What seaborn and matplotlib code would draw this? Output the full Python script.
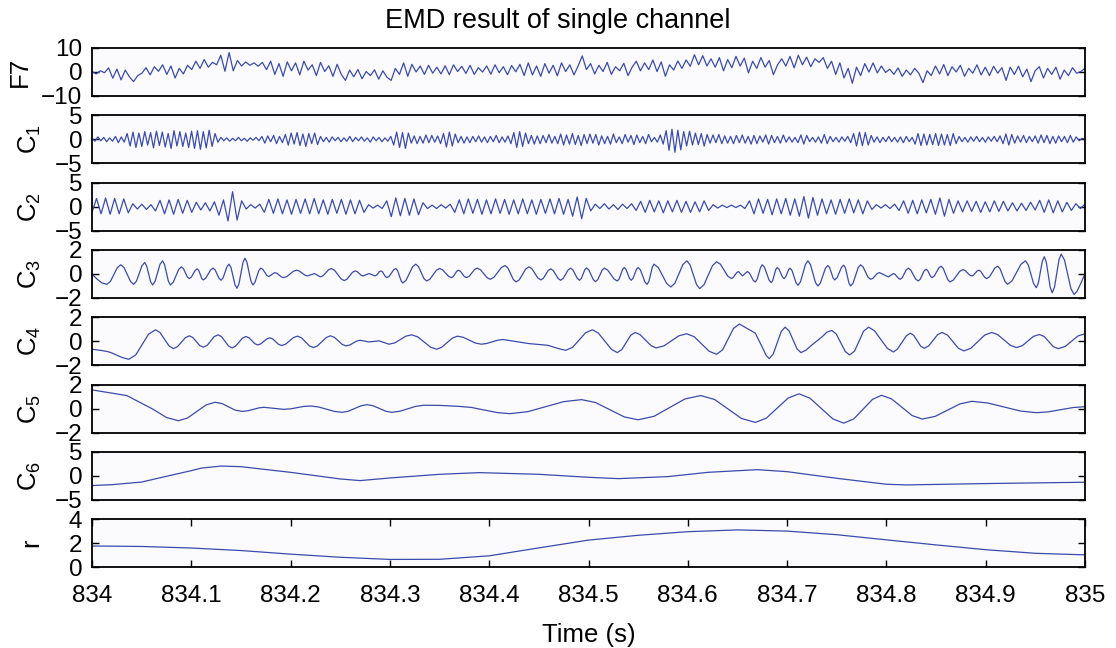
import numpy as np
import matplotlib
matplotlib.use("Agg")
import matplotlib.pyplot as plt
import seaborn as sns

# ---------------- data ----------------
T0 = 834.0
X_TICKS = [834.0, 834.1, 834.2, 834.3, 834.4, 834.5, 834.6, 834.7, 834.8, 834.9, 835.0]
X_TICK_LABELS = ["834", "834.1", "834.2", "834.3", "834.4", "834.5",
                 "834.6", "834.7", "834.8", "834.9", "835"]

# raw channel F7 (uniformly sampled over the second)
F7_VALUES = [
    0.2, -0.8, 0.5, -0.3, 1.7, -2.6, 1.2, -3.3, 0.8, -2.0, -4.0, -1.5,
    -0.5, 1.8, -1.2, 2.2, 0.3, 3.0, -1.0, 2.5, -2.5, 1.5, -0.8, 2.8,
    1.0, 4.5, 1.5, 5.2, 2.0, 4.0, 3.0, 7.0, 0.3, 8.1, 0.5, 4.8,
    2.5, 4.2, 2.8, 3.8, 2.4, 4.0, 1.0, 4.5, -1.0, 3.5, -1.8, 4.2,
    0.5, 3.8, -1.2, 4.5, 0.8, 3.0, -1.5, 4.0, 0.2, 2.6, -1.8, 3.2,
    -1.0, -3.5, 0.8, -2.0, 1.0, -2.8, 0.2, -1.5, 0.9, -3.0, 0.5, -2.2,
    -3.5, 1.5, -1.0, 3.8, -1.8, 3.2, 0.0, 2.5, -1.0, 2.8, -0.5, 2.0,
    -0.8, 2.6, -1.1, 3.0, 0.2, 2.4, -0.6, 2.8, -1.0, 1.8, 0.0, 2.5,
    -0.9, 3.0, -0.3, 2.2, -1.1, 2.7, 0.1, 3.2, -1.5, 3.8, -1.2, 2.5,
    -1.8, 3.5, -0.5, 2.8, -1.6, 3.8, 0.2, 3.0, -1.2, 2.5, 6.7, 1.0,
    3.5, -0.8, 2.8, 0.2, 4.0, -1.0, 2.2, 0.5, 3.6, -1.5, 2.0, 4.5,
    0.5, 3.8, 1.0, 5.0, 0.2, 4.2, -1.8, 3.0, 0.8, 4.6, 1.5, 5.0,
    2.4, 7.2, 3.0, 6.8, 2.5, 5.5, 2.0, 6.0, 0.5, 5.2, 1.8, 6.5,
    2.5, 5.8, -0.4, 4.5, 1.5, 6.0, 2.0, 4.8, -1.1, 3.0, 5.5, 2.5,
    6.5, 1.7, 7.0, 3.0, 6.2, 2.2, 5.5, 4.0, 6.0, 1.5, 4.5, -1.0,
    3.8, -2.5, 1.5, -4.7, 2.0, -1.5, 3.5, 0.0, 3.8, -0.4, 2.5, -0.2,
    1.2, -1.0, 1.7, -1.8, 0.8, -1.2, 1.5, -0.5, -4.4, 0.5, -1.5, 2.5,
    -0.8, 3.1, -1.5, 2.2, 0.0, 2.8, -1.8, 1.5, -0.5, 3.0, -1.2, 2.0,
    -1.5, 2.4, -0.5, 1.8, -3.5, 2.0, -1.0, 2.4, -2.0, 1.2, -4.0, 0.5,
    2.2, -2.5, 1.5, -1.0, 2.0, -3.0, 0.8, -1.5, 1.8, -0.5, 0.2, 1.5,
]

# IMF C1 (uniformly sampled extrema)
C1_VALUES = [
    0.2, -0.4, 0.5, -0.3, 0.4, -0.5, 0.3, -0.4, 0.6, -0.7, 0.5, -0.6, 1.2, -1.4, 1.5, -1.7, 1.3,
    -1.5, 1.6, -1.2, 1.4, -1.8, 1.7, -1.3, 1.5, -1.6, 1.2, -1.9, 1.8, -1.4, 1.6, -1.5, 1.3, -1.7,
    1.7, -1.9, 1.8, -2.1, 1.6, -1.8, 1.9, -1.5, 1.2, -0.6, 0.4, -0.3, 0.3, -0.4, 0.2, -0.3, 0.4,
    -0.3, 0.2, -0.4, 0.3, -0.2, 0.4, -0.3, 0.6, -0.8, 0.7, -0.5, 0.8, -0.9, 0.6, -0.7, 1.0, -1.2,
    1.3, -1.0, 1.4, -1.3, 1.1, -1.5, 1.2, -0.9, 1.3, -1.1, 0.6, -0.5, 0.4, -0.6, 0.5, -0.3, 0.4,
    -0.5, 0.3, -0.4, 0.6, -0.5, 0.4, -0.3, 0.5, -0.4, 0.3, -0.6, 0.5, -0.3, 0.4, -0.5, 0.3, -0.4,
    0.6, -1.2, 1.5, -1.7, 1.4, -1.9, 1.3, -0.8, 0.7, -0.9, 0.6, -0.8, 0.9, -0.7, 0.8, -0.6, 0.7,
    -0.9, 1.2, -1.6, 1.5, -1.4, 1.1, -0.7, 0.6, -0.8, 0.5, -0.7, 0.6, -0.5, 0.7, -0.6, 0.5, -0.7,
    0.6, -0.5, 0.8, -0.7, 0.5, -0.6, 0.7, -0.9, 1.4, -1.7, 1.6, -1.5, 1.3, -0.9, 0.8, -1.0, 0.7,
    -0.9, 0.8, -0.7, 1.0, -0.8, 0.6, -0.9, 1.1, -1.2, 0.9, -1.0, 1.2, -1.1, 0.8, -1.3, 1.0, -0.9,
    1.1, -0.8, 1.0, -1.2, 0.7, -0.9, 0.6, -1.0, 1.1, -0.7, 0.5, -0.9, 1.0, -0.6, 0.8, -1.1, 0.9,
    -0.7, 0.6, -0.9, 1.0, -0.5, 0.4, -0.6, 0.9, -1.0, 1.8, -2.3, 2.1, -2.7, 1.9, -2.2, 1.6, -1.4,
    1.7, -1.2, 1.3, -1.1, 1.2, -1.4, 1.0, -0.8, 0.9, -0.7, 1.0, -0.9, 0.7, -0.8, 0.6, -0.9, 0.8,
    -0.7, 0.9, -0.8, 0.6, -1.0, 0.8, -0.9, 0.7, -0.6, 0.9, -1.0, 0.8, -0.7, 0.6, -0.8, 0.9, -0.6,
    0.5, -0.6, 0.4, -0.7, 0.9, -1.0, 0.8, -0.5, 0.4, -0.6, 0.5, -0.8, 1.0, -0.9, 0.6, -0.5, 0.4,
    -0.6, 0.5, -0.4, 0.6, -0.7, 1.2, -1.4, 1.5, -1.3, 1.4, -1.2, 0.8, -0.6, 0.5, -0.7, 0.4, -0.5,
    0.6, -0.5, 0.4, -0.6, 0.5, -0.7, 0.6, -0.5, 0.4, -1.0, 1.2, -1.3, 1.1, -1.2, 1.0, -1.1, 1.2,
    -1.3, 1.1, -1.2, 1.0, -1.3, 1.2, -0.9, 0.6, -0.5, 0.4, -0.6, 0.5, -0.4, 0.6, -0.5, 0.4, -0.6,
    0.5, -0.4, 0.6, -0.5, 0.7, -0.9, 1.1, -1.2, 1.0, -0.8, 0.7, -0.6, 0.8, -0.7, 0.6, -0.5, 0.7,
    -0.8, 0.9, -0.7, 0.8, -0.9, 0.6, -0.8, 0.7, -0.5, 0.6, -0.7, 0.8, -0.6, 0.5, -0.3, 0.2, 0.0,
]

# IMF C2 (uniformly sampled extrema)
C2_VALUES = [
    -1.2, 1.7, -1.5, 1.8, -1.6, 1.7, -1.5, 1.6, -1.3, 0.6, -0.5,
    0.5, -0.6, 0.4, -0.9, 1.3, -1.5, 1.4, -1.6, 1.5, -1.4, 1.3,
    -1.2, 0.9, -0.7, 0.8, -0.9, 1.0, -1.8, 1.4, -3.0, 3.1, -2.8,
    1.2, -0.5, 0.4, -0.3, 0.5, -1.2, 1.5, -1.4, 1.6, -1.5, 1.4,
    -1.6, 1.5, -1.4, 1.6, -1.5, 1.7, -1.5, 1.4, -1.6, 1.5, -1.4,
    1.5, -1.6, 1.4, -1.5, 1.3, -1.2, 0.4, -0.3, 0.3, -0.4, 1.2,
    -2.1, 1.8, -1.9, 1.7, -1.8, 1.6, -1.7, 0.8, -0.4, 0.3, -0.4,
    0.4, -0.3, 0.5, -1.2, 1.4, -1.5, 1.6, -1.4, 1.5, -1.6, 1.4,
    -1.5, 1.6, -1.4, 1.5, -1.6, 1.4, -1.5, 1.6, -1.5, 1.4, -1.6,
    1.5, -1.4, 1.6, -1.5, 1.7, -1.6, 1.5, -2.0, 2.0, -2.5, 1.7,
    -0.9, 0.5, -0.4, 0.6, -0.5, 0.4, -0.6, 0.5, -0.4, 0.6, -0.8,
    1.1, -1.2, 1.3, -1.1, 1.2, -1.3, 1.2, -1.1, 1.3, -1.2, 1.1,
    -1.2, 1.0, -1.1, 1.2, -0.8, 0.4, -0.3, 0.3, -0.2, 0.3, -0.2,
    0.3, -0.4, 1.2, -1.5, 1.6, -1.4, 1.5, -1.7, 1.6, -1.5, 1.7,
    -1.8, 1.6, -2.0, 2.1, -2.4, 1.9, -1.8, 1.6, -1.5, 1.4, -1.6,
    1.5, -1.4, 1.6, -1.3, 1.4, -1.5, 1.2, -0.6, 0.4, -0.3, 0.4,
    -0.4, 0.5, -0.8, 1.2, -1.4, 1.3, -1.5, 1.4, -1.3, 1.5, -1.6,
    1.8, -2.0, 1.5, -1.4, 1.2, -1.1, 1.2, -1.0, 1.1, -1.2, 1.0,
    -1.1, 1.2, -1.0, 1.1, -0.9, 0.8, -0.9, 0.7, -0.8, 0.9, -0.7,
    1.3, -1.2, 1.4, -1.3, 1.2, -1.1, 0.9, -0.8, 0.6, -0.4, 0.5,
]

# IMF C3: (time offset in s, value) at the turning points
C3_POINTS = [
    (0.000, 0.00), (0.015, -0.87), (0.029, 0.76), (0.042, -0.87), (0.053, 0.95), (0.061, -0.92),
    (0.071, 1.09), (0.079, -0.92), (0.090, 0.59), (0.098, -0.39), (0.106, 0.42), (0.112, -0.50),
    (0.122, 0.48), (0.130, -0.53), (0.138, 0.81), (0.146, -1.20), (0.154, 1.31), (0.162, -0.92),
    (0.170, 0.48), (0.178, -0.22), (0.184, 0.11), (0.193, -0.31), (0.206, 0.31), (0.217, -0.17),
    (0.224, 0.03), (0.230, -0.25), (0.241, 0.45), (0.254, -0.56), (0.265, 0.25), (0.273, -0.17),
    (0.279, 0.03), (0.285, -0.17), (0.291, 0.25), (0.297, -0.31), (0.306, 0.45), (0.313, -0.76),
    (0.326, 0.81), (0.337, -0.59), (0.350, 0.45), (0.362, -0.31), (0.369, 0.31), (0.377, -0.31),
    (0.388, 0.48), (0.401, -0.45), (0.416, 0.70), (0.427, -0.67), (0.440, 0.59), (0.452, -0.50),
    (0.462, 0.42), (0.472, -0.53), (0.482, 0.48), (0.491, -0.53), (0.498, 0.50), (0.507, -0.64),
    (0.516, 0.48), (0.529, -0.59), (0.536, 0.53), (0.543, -0.53), (0.550, 0.53), (0.559, -0.87),
    (0.566, 0.81), (0.583, -1.09), (0.599, 1.09), (0.612, -1.23), (0.629, 1.01), (0.644, -0.39),
    (0.651, 0.20), (0.655, -0.17), (0.660, 0.20), (0.668, -0.67), (0.675, 0.76), (0.684, -0.73),
    (0.690, 0.53), (0.697, -0.39), (0.703, 0.48), (0.711, -0.95), (0.721, 1.09), (0.731, -1.01),
    (0.741, 0.70), (0.748, -0.50), (0.757, 0.73), (0.764, -1.01), (0.774, 0.76), (0.784, -0.45),
    (0.793, 0.11), (0.802, -0.25), (0.807, 0.03), (0.814, -0.45), (0.822, 0.48), (0.832, -0.59),
    (0.840, 0.39), (0.846, -0.31), (0.855, 0.64), (0.864, -0.67), (0.877, 0.36), (0.886, -0.17),
    (0.893, 0.31), (0.901, -0.39), (0.912, 0.64), (0.922, -0.87), (0.940, 1.09), (0.951, -1.15),
    (0.959, 1.43), (0.967, -1.57), (0.976, 1.65), (0.989, -1.71), (1.000, 0.03),
]
# C3: points on the flanks of each wave (read between the turning points)
C3_FLANK_POINTS = [
    (0.005, -0.43), (0.010, -0.75), (0.0185, -0.63), (0.0255, 0.52), (0.0323, 0.52), (0.0388, -0.63),
    (0.0448, -0.60), (0.0503, 0.68), (0.055, 0.68), (0.059, -0.65), (0.0635, -0.63), (0.0685, 0.80),
    (0.073, 0.80), (0.077, -0.63), (0.0818, -0.70), (0.0873, 0.37), (0.092, 0.45), (0.096, -0.25),
    (0.100, -0.27), (0.104, 0.30), (0.1075, 0.29), (0.1105, -0.37), (0.1145, -0.36), (0.1195, 0.34),
    (0.124, 0.33), (0.128, -0.38), (0.132, -0.33), (0.136, 0.61), (0.140, 0.52), (0.144, -0.91),
    (0.148, -0.83), (0.152, 0.94), (0.156, 0.98), (0.160, -0.59), (0.164, -0.72), (0.168, 0.28),
    (0.172, 0.38), (0.176, -0.12), (0.1863, 0.05), (0.1908, -0.25), (0.1963, -0.22), (0.2028, 0.22),
    (0.2088, 0.24), (0.2143, -0.10), (0.2328, -0.15), (0.2383, 0.35), (0.2443, 0.30), (0.2508, -0.41),
    (0.2568, -0.44), (0.2623, 0.13), (0.267, 0.19), (0.271, -0.11), (0.2865, -0.11), (0.2895, 0.19),
    (0.2925, 0.17), (0.2955, -0.23), (0.2993, -0.20), (0.3038, 0.34), (0.3078, 0.27), (0.3113, -0.58),
    (0.3163, -0.53), (0.3228, 0.58), (0.3288, 0.61), (0.3343, -0.39), (0.3403, -0.44), (0.3468, 0.30),
    (0.353, 0.34), (0.359, -0.20), (0.3638, -0.22), (0.3673, 0.22), (0.371, 0.22), (0.375, -0.22),
    (0.3798, -0.20), (0.3853, 0.37), (0.3913, 0.34), (0.3978, -0.31), (0.4048, -0.28), (0.4123, 0.53),
    (0.4188, 0.50), (0.4243, -0.47), (0.4303, -0.49), (0.4368, 0.41), (0.443, 0.43), (0.449, -0.34),
    (0.4545, -0.37), (0.4595, 0.29), (0.4645, 0.28), (0.4695, -0.39), (0.4745, -0.38), (0.4795, 0.33),
    (0.4843, 0.33), (0.4888, -0.38), (0.4928, -0.38), (0.4963, 0.35), (0.5003, 0.33), (0.5048, -0.47),
    (0.5093, -0.48), (0.5138, 0.32), (0.5193, 0.32), (0.5258, -0.43), (0.5308, -0.43), (0.5343, 0.37),
    (0.5378, 0.38), (0.5413, -0.38), (0.5448, -0.38), (0.5483, 0.38), (0.5523, 0.33), (0.5568, -0.67),
    (0.5608, -0.63), (0.5643, 0.57), (0.5703, 0.53), (0.5788, -0.81), (0.587, -0.77), (0.595, 0.77),
    (0.6023, 0.75), (0.6088, -0.89), (0.6163, -0.90), (0.6248, 0.68), (0.6328, 0.81), (0.6403, -0.19),
    (0.6458, -0.30), (0.6493, 0.11), (0.662, 0.07), (0.666, -0.54), (0.6698, -0.46), (0.6733, 0.55),
    (0.6773, 0.54), (0.6818, -0.51), (0.6855, -0.55), (0.6885, 0.35), (0.6918, 0.40), (0.6953, -0.26),
    (0.6985, -0.26), (0.7015, 0.35), (0.705, 0.27), (0.709, -0.74), (0.7135, -0.65), (0.7185, 0.79),
    (0.7235, 0.78), (0.7285, -0.70), (0.7335, -0.76), (0.7385, 0.45), (0.7428, 0.53), (0.7463, -0.33),
    (0.7503, -0.32), (0.7548, 0.55), (0.7588, 0.48), (0.7623, -0.76), (0.7665, -0.75), (0.7715, 0.50),
    (0.7765, 0.58), (0.7815, -0.27), (0.7863, -0.37), (0.7908, 0.03), (0.8088, -0.04), (0.8123, -0.38),
    (0.816, -0.31), (0.820, 0.34), (0.8245, 0.32), (0.8295, -0.43), (0.834, -0.45), (0.838, 0.25),
    (0.8415, 0.29), (0.8445, -0.21), (0.8483, -0.17), (0.8528, 0.50), (0.8573, 0.45), (0.8618, -0.48),
    (0.8673, -0.52), (0.8738, 0.21), (0.8793, 0.28), (0.8838, -0.09), (0.8878, -0.10), (0.8913, 0.24),
    (0.895, 0.21), (0.899, -0.29), (0.9038, -0.24), (0.9093, 0.49), (0.9145, 0.42), (0.9195, -0.65),
    (0.9265, -0.58), (0.9355, 0.80), (0.9428, 0.76), (0.9483, -0.82), (0.953, -0.77), (0.957, 1.05),
    (0.961, 0.99), (0.965, -1.13), (0.9693, -1.10), (0.9738, 1.18), (0.9793, 1.16), (0.9858, -1.22),
    (0.992, -1.45), (0.996, -0.75),
]

C4_POINTS = [
    (0.000, -0.67), (0.016, -0.87), (0.037, -1.51), (0.064, 0.95), (0.082, -0.62), (0.098, 0.45),
    (0.112, -0.50), (0.127, 0.53), (0.141, -0.56), (0.155, 0.39), (0.167, -0.31), (0.179, 0.28),
    (0.191, -0.36), (0.207, 0.42), (0.223, -0.53), (0.240, 0.45), (0.256, -0.39), (0.270, 0.08),
    (0.279, -0.06), (0.289, 0.03), (0.299, -0.25), (0.322, 0.53), (0.347, -0.67), (0.368, 0.42),
    (0.392, -0.25), (0.414, 0.14), (0.440, -0.20), (0.459, -0.34), (0.477, -0.76), (0.504, 0.95),
    (0.529, -0.95), (0.547, 0.73), (0.568, -0.56), (0.599, 0.62), (0.629, -1.09), (0.652, 1.43),
    (0.668, 0.67), (0.682, -1.45), (0.698, 1.17), (0.714, -0.95), (0.725, -0.31), (0.745, 0.90),
    (0.763, -1.15), (0.782, 1.17), (0.807, -0.90), (0.824, 0.67), (0.838, -0.59), (0.856, 0.73),
    (0.878, -0.81), (0.906, 0.73), (0.931, -0.53), (0.954, 0.56), (0.973, -0.62), (1.000, 0.62),
]
C4_FLANK_POINTS = [
    (0.010, -0.78), (0.020, -0.98), (0.030, -1.35), (0.044, -1.15), (0.057, 0.59),
    (0.0685, 0.72), (0.0775, -0.39), (0.086, -0.46), (0.094, 0.29), (0.1015, 0.31), (0.1085, -0.36),
    (0.116, -0.35), (0.123, 0.38), (0.1305, 0.37), (0.1375, -0.40), (0.1445, -0.42), (0.1515, 0.25),
    (0.158, 0.29), (0.164, -0.21), (0.170, -0.22), (0.176, 0.19), (0.182, 0.19), (0.188, -0.27),
    (0.195, -0.25), (0.203, 0.31), (0.211, 0.28), (0.219, -0.39), (0.227, -0.39), (0.236, 0.31),
    (0.244, 0.33), (0.252, -0.27), (0.2595, -0.32), (0.2665, 0.01),
    (0.305, -0.14), (0.316, 0.42), (0.328, 0.36), (0.341, -0.50), (0.352, -0.51), (0.363, 0.26),
    (0.374, 0.32), (0.386, -0.15), (0.3975, -0.19), (0.4085, 0.08), (0.470, -0.62),
    (0.484, -0.51), (0.497, 0.70), (0.510, 0.67), (0.523, -0.67), (0.5335, -0.70), (0.5425, 0.49),
    (0.552, 0.54), (0.563, -0.37), (0.576, -0.39), (0.591, 0.45), (0.6065, 0.37), (0.6215, -0.84),
    (0.635, -0.72), (0.646, 1.06), (0.660, 1.05), (0.675, -0.50), (0.679, -1.20),
    (0.686, -1.07), (0.694, 0.79), (0.702, 0.86), (0.710, -0.64), (0.719, -0.75), (0.735, 0.35),
    (0.740, 0.75), (0.7495, 0.60), (0.7585, -0.85), (0.768, -0.81), (0.777, 0.83), (0.788, 0.87),
    (0.801, -0.60), (0.811, -0.67), (0.820, 0.44), (0.8275, 0.49), (0.8345, -0.41), (0.8425, -0.40),
    (0.8515, 0.54), (0.8615, 0.51), (0.8725, -0.59), (0.885, -0.59), (0.899, 0.51), (0.912, 0.55),
    (0.925, -0.35), (0.937, -0.37), (0.948, 0.40), (0.959, 0.39), (0.968, -0.45), (0.980, -0.44),
    (0.993, 0.44),
]

C5_POINTS = [
    (0.000, 1.55), (0.035, 1.08), (0.061, -0.04), (0.075, -0.75), (0.087, -1.02), (0.096, -0.80),
    (0.115, 0.30), (0.124, 0.52), (0.131, 0.41), (0.144, -0.13), (0.151, -0.24), (0.157, -0.19),
    (0.168, 0.05), (0.173, 0.10), (0.193, -0.07), (0.200, -0.03), (0.213, 0.17), (0.220, 0.21),
    (0.228, 0.13), (0.244, -0.24), (0.252, -0.32), (0.258, -0.23), (0.271, 0.23), (0.277, 0.32),
    (0.283, 0.23), (0.296, -0.23), (0.302, -0.32), (0.310, -0.23), (0.326, 0.18), (0.334, 0.27),
    (0.350, 0.26), (0.369, 0.18), (0.382, 0.09), (0.408, -0.34), (0.421, -0.43), (0.439, -0.26),
    (0.475, 0.57), (0.493, 0.74), (0.507, 0.50), (0.536, -0.70), (0.550, -0.94), (0.566, -0.65),
    (0.597, 0.79), (0.613, 1.08), (0.627, 0.75), (0.654, -0.83), (0.668, -1.16), (0.679, -0.81),
    (0.701, 0.87), (0.712, 1.22), (0.723, 0.86), (0.746, -0.86), (0.757, -1.22), (0.767, -0.88),
    (0.786, 0.76), (0.795, 1.10), (0.805, 0.81), (0.826, -0.59), (0.836, -0.88), (0.849, -0.66),
    (0.874, 0.38), (0.886, 0.60), (0.902, 0.46), (0.935, -0.21), (0.951, -0.35), (0.963, -0.28),
    (0.988, 0.08), (1.000, 0.15),
]

C6_POINTS = [
    (0.00, -2.03), (0.02, -1.85), (0.05, -1.30), (0.075, -0.10), (0.10, 1.07), (0.11, 1.60),
    (0.13, 2.03), (0.15, 1.90), (0.20, 0.72), (0.25, -0.66), (0.27, -1.00), (0.30, -0.45),
    (0.35, 0.31), (0.39, 0.66), (0.45, 0.31), (0.50, -0.31), (0.53, -0.59), (0.58, -0.17),
    (0.62, 0.72), (0.67, 1.28), (0.70, 0.86), (0.75, -0.52), (0.80, -1.76), (0.82, -1.90),
    (0.90, -1.62), (1.00, -1.34),
]

R_POINTS = [
    (0.00, 1.76), (0.05, 1.72), (0.10, 1.59), (0.15, 1.38), (0.20, 1.08), (0.25, 0.82),
    (0.30, 0.64), (0.35, 0.65), (0.40, 0.94), (0.45, 1.60), (0.50, 2.25), (0.55, 2.65),
    (0.60, 2.95), (0.65, 3.10), (0.70, 3.00), (0.75, 2.70), (0.80, 2.27), (0.85, 1.85),
    (0.90, 1.45), (0.95, 1.15), (1.00, 1.02),
]

PANEL_LABELS = ["F7", "C$_1$", "C$_2$", "C$_3$", "C$_4$", "C$_5$", "C$_6$", "r"]
Y_LIMITS = [(-10, 10), (-5, 5), (-5, 5), (-2, 2), (-2, 2), (-2, 2), (-5, 5), (0, 4)]
Y_TICKS = [[-10, 0, 10], [-5, 0, 5], [-5, 0, 5], [-2, 0, 2], [-2, 0, 2], [-2, 0, 2],
           [-5, 0, 5], [0, 2, 4]]
TITLE = "EMD result of single channel"
X_LABEL = "Time (s)"

# ---------------- build series ----------------
def uniform(vals):
    return np.linspace(T0, T0 + 1.0, len(vals)), np.array(vals)

def pairs(*lists):
    a = np.array(sorted([p for lst in lists for p in lst]))
    return T0 + a[:, 0], a[:, 1]

series = [uniform(F7_VALUES), uniform(C1_VALUES), uniform(C2_VALUES),
          pairs(C3_POINTS, C3_FLANK_POINTS), pairs(C4_POINTS, C4_FLANK_POINTS),
          pairs(C5_POINTS), pairs(C6_POINTS), pairs(R_POINTS)]

# ---------------- style ----------------
sns.set_theme(style="ticks")
plt.rcParams['font.family'] = ['Liberation Sans', 'DejaVu Sans']
plt.rcParams['mathtext.fontset'] = 'custom'
plt.rcParams['mathtext.rm'] = 'Liberation Sans'
plt.rcParams['mathtext.it'] = 'Liberation Sans'
plt.rcParams['mathtext.default'] = 'regular'

LINE_COLOR = '#3a4bad'
FACE = '#fbfbfd'
W, H = 1116, 648
fig = plt.figure(figsize=(W / 100, H / 100), dpi=100)
fig.patch.set_facecolor('white')

left_px, right_px = 92, 1085
height_px = 48
step_px = 67.3
top0 = 48

axes = []
for i, ((t, v), lab, ylim, yt) in enumerate(zip(series, PANEL_LABELS, Y_LIMITS, Y_TICKS)):
    top = top0 + step_px * i
    rect = [left_px / W, 1 - (top + height_px) / H, (right_px - left_px) / W, height_px / H]
    ax = fig.add_axes(rect)
    ax.set_facecolor(FACE)
    sns.lineplot(x=t, y=v, ax=ax, color=LINE_COLOR, linewidth=0.9,
                 estimator=None, sort=False)
    ax.set_xlim(834, 835)
    ax.set_ylim(*ylim)
    ax.set_yticks(yt)
    ax.set_yticklabels([str(k).replace('-', '\u2212') for k in yt])
    for s in ax.spines.values():
        s.set_visible(True)
        s.set_color('black')
        s.set_linewidth(1.3)
    ax.tick_params(axis='y', direction='in', length=5, width=1, left=True, right=True,
                   labelsize=17.5, pad=7, colors='black')
    if i < 7:
        ax.set_xticks([])
    else:
        ax.set_xticks(X_TICKS)
        ax.set_xticklabels(X_TICK_LABELS)
        ax.tick_params(axis='x', direction='in', length=5, width=1, top=True, bottom=True,
                       labelsize=17.5, pad=13, colors='black')
    ax.set_ylabel(lab, fontsize=18.5, color='black')
    ax.set_xlabel('')
    xl = -0.061 if lab == "F7" else -0.049
    ax.yaxis.set_label_coords(xl, 0.5)
    axes.append(ax)

fig.text(0.5, 1 - 21 / H, TITLE, ha='center', va='center', fontsize=19.5, color='black')
axes[-1].set_xlabel(X_LABEL, fontsize=18.5, color='black')
axes[-1].xaxis.set_label_coords(0.5, -1.17)

fig.savefig('out.png', dpi=100, facecolor='white')
